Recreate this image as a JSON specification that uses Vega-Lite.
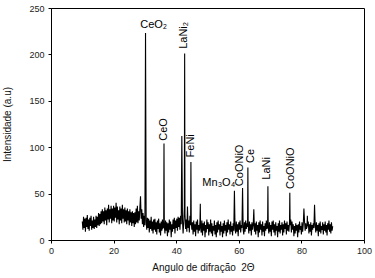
{
"$schema":"https://vega.github.io/schema/vega-lite/v6.json",
"width":313,"height":232,"autosize":"none",
"padding":{"left":51,"top":8,"right":11,"bottom":38},
"background":"white",
"config":{"view":{"stroke":"#000","strokeWidth":1},"font":"Liberation Sans",
"axis":{"grid":false,"domainColor":"#000","tickColor":"#000","tickSize":3,"labelColor":"#222","labelFontSize":9,"labelFlush":false,"labelOverlap":false,"titleFontSize":10,"titleFontWeight":"normal","titleColor":"#111"}},
"datasets":{
"xrd":[
{"x":10.0,"y":20},{"x":10.2,"y":11},{"x":10.4,"y":25},{"x":10.6,"y":13},{"x":10.8,"y":23},{"x":11.0,"y":9},{"x":11.2,"y":24},{"x":11.4,"y":14},{"x":11.6,"y":27},{"x":11.8,"y":12},
{"x":12.0,"y":22},{"x":12.2,"y":10},{"x":12.4,"y":24},{"x":12.6,"y":15},{"x":12.8,"y":26},{"x":13.0,"y":11},{"x":13.2,"y":21},{"x":13.4,"y":13},{"x":13.6,"y":25},{"x":13.8,"y":12},
{"x":14.0,"y":22},{"x":14.2,"y":14},{"x":14.4,"y":26},{"x":14.6,"y":13},{"x":14.8,"y":25},{"x":15.0,"y":16},{"x":15.2,"y":29},{"x":15.4,"y":15},{"x":15.6,"y":28},{"x":15.8,"y":17},
{"x":16.0,"y":31},{"x":16.2,"y":18},{"x":16.4,"y":33},{"x":16.6,"y":20},{"x":16.8,"y":31},{"x":17.0,"y":17},{"x":17.2,"y":35},{"x":17.4,"y":21},{"x":17.6,"y":32},{"x":17.8,"y":16},
{"x":18.0,"y":34},{"x":18.2,"y":22},{"x":18.4,"y":38},{"x":18.6,"y":19},{"x":18.8,"y":33},{"x":19.0,"y":23},{"x":19.2,"y":37},{"x":19.4,"y":18},{"x":19.6,"y":34},{"x":19.8,"y":21},
{"x":20.0,"y":37},{"x":20.2,"y":20},{"x":20.4,"y":35},{"x":20.6,"y":24},{"x":20.8,"y":40},{"x":21.0,"y":19},{"x":21.2,"y":36},{"x":21.4,"y":22},{"x":21.6,"y":32},{"x":21.8,"y":17},
{"x":22.0,"y":36},{"x":22.2,"y":21},{"x":22.4,"y":34},{"x":22.6,"y":18},{"x":22.8,"y":38},{"x":23.0,"y":23},{"x":23.2,"y":33},{"x":23.4,"y":19},{"x":23.6,"y":35},{"x":23.8,"y":20},
{"x":24.0,"y":32},{"x":24.2,"y":17},{"x":24.4,"y":34},{"x":24.6,"y":21},{"x":24.8,"y":31},{"x":25.0,"y":16},{"x":25.2,"y":33},{"x":25.4,"y":19},{"x":25.6,"y":30},{"x":25.8,"y":15},
{"x":26.0,"y":31},{"x":26.2,"y":18},{"x":26.4,"y":29},{"x":26.6,"y":14},{"x":26.8,"y":30},{"x":27.0,"y":17},{"x":27.2,"y":34},{"x":27.4,"y":19},{"x":27.6,"y":37},{"x":27.8,"y":18},
{"x":28.0,"y":31},{"x":28.2,"y":21},{"x":28.4,"y":35},{"x":28.6,"y":47},{"x":28.8,"y":23},{"x":29.0,"y":33},{"x":29.2,"y":17},{"x":29.4,"y":29},{"x":29.6,"y":14},{"x":29.8,"y":26},
{"x":30.0,"y":16},{"x":30.2,"y":223},{"x":30.4,"y":20},{"x":30.6,"y":11},{"x":30.8,"y":24},{"x":31.0,"y":13},{"x":31.2,"y":23},{"x":31.4,"y":8},{"x":31.6,"y":21},{"x":31.8,"y":12},
{"x":32.0,"y":25},{"x":32.2,"y":10},{"x":32.4,"y":20},{"x":32.6,"y":7},{"x":32.8,"y":22},{"x":33.0,"y":11},{"x":33.2,"y":23},{"x":33.4,"y":9},{"x":33.6,"y":19},{"x":33.8,"y":6},
{"x":34.0,"y":21},{"x":34.2,"y":12},{"x":34.4,"y":23},{"x":34.6,"y":8},{"x":34.8,"y":18},{"x":35.0,"y":5},{"x":35.2,"y":20},{"x":35.4,"y":10},{"x":35.6,"y":22},{"x":35.8,"y":13},
{"x":36.0,"y":14},{"x":36.1,"y":104},{"x":36.2,"y":16},{"x":36.4,"y":7},{"x":36.6,"y":21},{"x":36.8,"y":10},{"x":37.0,"y":19},{"x":37.2,"y":4},{"x":37.4,"y":18},{"x":37.6,"y":8},
{"x":37.8,"y":22},{"x":38.0,"y":11},{"x":38.2,"y":20},{"x":38.4,"y":3},{"x":38.6,"y":17},{"x":38.8,"y":9},{"x":39.0,"y":22},{"x":39.2,"y":12},{"x":39.4,"y":24},{"x":39.6,"y":7},
{"x":39.8,"y":21},{"x":40.0,"y":13},{"x":40.2,"y":23},{"x":40.4,"y":10},{"x":40.6,"y":25},{"x":40.8,"y":14},{"x":41.0,"y":24},{"x":41.2,"y":11},{"x":41.4,"y":26},{"x":41.6,"y":17},
{"x":41.8,"y":112},{"x":42.0,"y":22},{"x":42.2,"y":7},{"x":42.4,"y":18},{"x":42.6,"y":35},{"x":42.7,"y":201},{"x":42.8,"y":28},{"x":43.0,"y":12},{"x":43.2,"y":22},{"x":43.4,"y":9},
{"x":43.6,"y":36},{"x":43.8,"y":13},{"x":44.0,"y":21},{"x":44.2,"y":8},{"x":44.4,"y":26},{"x":44.6,"y":16},{"x":44.7,"y":84},{"x":44.8,"y":20},{"x":45.0,"y":11},{"x":45.2,"y":19},
{"x":45.4,"y":6},{"x":45.6,"y":21},{"x":45.8,"y":9},{"x":46.0,"y":17},{"x":46.2,"y":4},{"x":46.4,"y":20},{"x":46.6,"y":11},{"x":46.8,"y":22},{"x":47.0,"y":7},{"x":47.2,"y":16},
{"x":47.4,"y":10},{"x":47.6,"y":21},{"x":47.7,"y":39},{"x":47.8,"y":13},{"x":48.0,"y":8},{"x":48.2,"y":21},{"x":48.4,"y":5},{"x":48.6,"y":18},{"x":48.8,"y":10},{"x":49.0,"y":20},
{"x":49.2,"y":3},{"x":49.4,"y":16},{"x":49.6,"y":8},{"x":49.8,"y":22},{"x":50.0,"y":12},{"x":50.2,"y":19},{"x":50.4,"y":5},{"x":50.6,"y":17},{"x":50.8,"y":9},{"x":51.0,"y":22},
{"x":51.2,"y":7},{"x":51.4,"y":18},{"x":51.6,"y":4},{"x":51.8,"y":15},{"x":52.0,"y":10},{"x":52.2,"y":21},{"x":52.4,"y":6},{"x":52.6,"y":16},{"x":52.8,"y":3},{"x":53.0,"y":19},
{"x":53.2,"y":8},{"x":53.4,"y":21},{"x":53.6,"y":11},{"x":53.8,"y":17},{"x":54.0,"y":5},{"x":54.2,"y":20},{"x":54.4,"y":9},{"x":54.6,"y":15},{"x":54.8,"y":3},{"x":55.0,"y":18},
{"x":55.2,"y":7},{"x":55.4,"y":21},{"x":55.6,"y":10},{"x":55.8,"y":16},{"x":56.0,"y":4},{"x":56.2,"y":19},{"x":56.4,"y":8},{"x":56.6,"y":22},{"x":56.8,"y":11},{"x":57.0,"y":17},
{"x":57.2,"y":6},{"x":57.4,"y":20},{"x":57.6,"y":9},{"x":57.8,"y":15},{"x":58.0,"y":5},{"x":58.2,"y":18},{"x":58.4,"y":10},{"x":58.6,"y":53},{"x":58.8,"y":12},{"x":59.0,"y":7},
{"x":59.2,"y":20},{"x":59.4,"y":9},{"x":59.6,"y":17},{"x":59.8,"y":4},{"x":60.0,"y":19},{"x":60.2,"y":11},{"x":60.4,"y":21},{"x":60.6,"y":8},{"x":60.8,"y":16},{"x":61.0,"y":13},
{"x":61.2,"y":56},{"x":61.4,"y":11},{"x":61.6,"y":6},{"x":61.8,"y":19},{"x":62.0,"y":9},{"x":62.2,"y":21},{"x":62.4,"y":12},{"x":62.6,"y":18},{"x":62.8,"y":14},{"x":62.9,"y":78},
{"x":63.0,"y":16},{"x":63.2,"y":7},{"x":63.4,"y":20},{"x":63.6,"y":10},{"x":63.8,"y":17},{"x":64.0,"y":5},{"x":64.2,"y":19},{"x":64.4,"y":11},{"x":64.6,"y":16},{"x":64.8,"y":33},
{"x":65.0,"y":9},{"x":65.2,"y":18},{"x":65.4,"y":6},{"x":65.6,"y":20},{"x":65.8,"y":10},{"x":66.0,"y":16},{"x":66.2,"y":3},{"x":66.4,"y":19},{"x":66.6,"y":8},{"x":66.8,"y":21},
{"x":67.0,"y":11},{"x":67.2,"y":17},{"x":67.4,"y":5},{"x":67.6,"y":20},{"x":67.8,"y":9},{"x":68.0,"y":15},{"x":68.2,"y":4},{"x":68.4,"y":18},{"x":68.6,"y":10},{"x":68.8,"y":21},
{"x":69.0,"y":12},{"x":69.2,"y":16},{"x":69.3,"y":58},{"x":69.4,"y":14},{"x":69.6,"y":7},{"x":69.8,"y":19},{"x":70.0,"y":9},{"x":70.2,"y":16},{"x":70.4,"y":4},{"x":70.6,"y":20},
{"x":70.8,"y":11},{"x":71.0,"y":21},{"x":71.2,"y":8},{"x":71.4,"y":17},{"x":71.6,"y":5},{"x":71.8,"y":19},{"x":72.0,"y":10},{"x":72.2,"y":15},{"x":72.4,"y":3},{"x":72.6,"y":18},
{"x":72.8,"y":9},{"x":73.0,"y":21},{"x":73.2,"y":7},{"x":73.4,"y":16},{"x":73.6,"y":11},{"x":73.8,"y":19},{"x":74.0,"y":5},{"x":74.2,"y":17},{"x":74.4,"y":8},{"x":74.6,"y":21},
{"x":74.8,"y":12},{"x":75.0,"y":18},{"x":75.2,"y":6},{"x":75.4,"y":20},{"x":75.6,"y":10},{"x":75.8,"y":16},{"x":76.0,"y":9},{"x":76.2,"y":19},{"x":76.3,"y":51},{"x":76.4,"y":16},
{"x":76.6,"y":22},{"x":76.8,"y":8},{"x":77.0,"y":20},{"x":77.2,"y":11},{"x":77.4,"y":17},{"x":77.6,"y":4},{"x":77.8,"y":15},{"x":78.0,"y":7},{"x":78.2,"y":18},{"x":78.4,"y":10},
{"x":78.6,"y":16},{"x":78.8,"y":3},{"x":79.0,"y":17},{"x":79.2,"y":8},{"x":79.4,"y":20},{"x":79.6,"y":11},{"x":79.8,"y":15},{"x":80.0,"y":6},{"x":80.2,"y":19},{"x":80.4,"y":9},
{"x":80.6,"y":17},{"x":80.8,"y":34},{"x":81.0,"y":20},{"x":81.2,"y":10},{"x":81.4,"y":18},{"x":81.6,"y":12},{"x":81.8,"y":14},{"x":81.9,"y":26},{"x":82.0,"y":15},{"x":82.2,"y":20},
{"x":82.4,"y":7},{"x":82.6,"y":17},{"x":82.8,"y":9},{"x":83.0,"y":19},{"x":83.2,"y":5},{"x":83.4,"y":16},{"x":83.6,"y":11},{"x":83.8,"y":18},{"x":84.0,"y":13},{"x":84.2,"y":38},
{"x":84.4,"y":16},{"x":84.6,"y":8},{"x":84.8,"y":19},{"x":85.0,"y":10},{"x":85.2,"y":16},{"x":85.4,"y":4},{"x":85.6,"y":18},{"x":85.8,"y":9},{"x":86.0,"y":20},{"x":86.2,"y":7},
{"x":86.4,"y":15},{"x":86.6,"y":11},{"x":86.8,"y":19},{"x":87.0,"y":6},{"x":87.2,"y":17},{"x":87.4,"y":10},{"x":87.6,"y":20},{"x":87.8,"y":8},{"x":88.0,"y":16},{"x":88.2,"y":5},
{"x":88.4,"y":18},{"x":88.6,"y":11},{"x":88.8,"y":21},{"x":89.0,"y":9},{"x":89.2,"y":17},{"x":89.4,"y":7},{"x":89.6,"y":19},{"x":89.8,"y":10},{"x":90.0,"y":15}
],
"hlabels":[
{"x":32.8,"y":232,"label":"CeO₂"},
{"x":53.6,"y":61,"label":"Mn₃O₄"}
],
"vlabels":[
{"x":42.6,"y":206,"label":"LaNi₂"},
{"x":36.1,"y":107,"label":"CeO"},
{"x":44.8,"y":89,"label":"FeNi"},
{"x":60.4,"y":58,"label":"CoONiO"},
{"x":63.9,"y":83,"label":"Ce"},
{"x":69.1,"y":65,"label":"LaNi"},
{"x":76.7,"y":55,"label":"CoONiO"}
]
},
"layer":[
{"data":{"name":"xrd"},
"mark":{"type":"line","color":"#000","strokeWidth":1.1},
"encoding":{
"x":{"field":"x","type":"quantitative","scale":{"domain":[0,100],"nice":false},
"axis":{"values":[0,10,20,30,40,50,60,70,80,90,100],"labelExpr":"datum.value % 20 == 0 ? datum.label : ''","labelPadding":3,"title":"Angulo de difração\u00a0 2Θ","titleX":152,"titleY":22}},
"y":{"field":"y","type":"quantitative","scale":{"domain":[0,250],"nice":false},
"axis":{"values":[0,25,50,75,100,125,150,175,200,225,250],"labelExpr":"datum.value % 50 == 0 ? datum.label : ''","labelPadding":4,"title":"Intensidade (a.u)","titleX":-39}}}},
{"data":{"name":"hlabels"},
"mark":{"type":"text","fontSize":11,"align":"center","baseline":"middle","color":"#000"},
"encoding":{"x":{"field":"x","type":"quantitative"},"y":{"field":"y","type":"quantitative"},"text":{"field":"label"}}},
{"data":{"name":"vlabels"},
"mark":{"type":"text","fontSize":11,"angle":270,"align":"left","baseline":"middle","color":"#000"},
"encoding":{"x":{"field":"x","type":"quantitative"},"y":{"field":"y","type":"quantitative"},"text":{"field":"label"}}}
]
}
